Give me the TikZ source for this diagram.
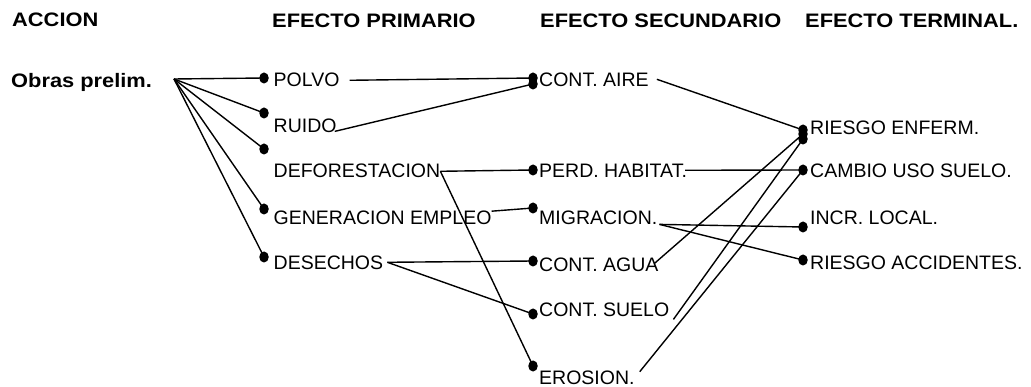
\documentclass[tikz,border=0pt]{standalone}
\usepackage{fontspec}
\setmainfont{Liberation Sans}
\newfontfamily\hfont{Liberation Sans}[FakeStretch=1.12]
\usetikzlibrary{shapes.geometric}
\begin{document}
\begin{tikzpicture}[x=1pt,y=-1pt,
  dot/.style={ellipse,fill=black,inner sep=0pt,minimum width=9.5pt,minimum height=11pt},
  lbl/.style={anchor=base west,inner sep=0pt,font=\fontsize{19.5}{22}\selectfont},
  head/.style={anchor=base west,inner sep=0pt,font=\hfont\bfseries\fontsize{19.5}{22}\selectfont},
  conn/.style={line width=1.4pt}]
\useasboundingbox (0,0) rectangle (1031,387);
% headings
\node[head] (h1) at (12,27) {ACCION};
\node[head] (h2) at (272,28) {EFECTO PRIMARIO};
\node[head] (h3) at (540,28) {EFECTO SECUNDARIO};
\node[head] (h4) at (805,28) {EFECTO TERMINAL.};
\node[head] (obras) at (11,88) {Obras prelim.};
\coordinate (src) at (174,79);
% primary
\node[lbl] (polvo) at (273.5,87) {POLVO};
\node[lbl] (ruido) at (273.5,133) {RUIDO};
\node[lbl] (defor) at (273.5,178) {DEFORESTACION};
\node[lbl] (gen) at (273.5,225) {GENERACION EMPLEO};
\node[lbl] (des) at (273.5,270) {DESECHOS};
% secondary
\node[lbl] (aire) at (539,87) {CONT. AIRE};
\node[lbl] (perd) at (539,178) {PERD. HABITAT.};
\node[lbl] (mig) at (539,225) {MIGRACION.};
\node[lbl] (agua) at (539,272) {CONT. AGUA};
\node[lbl] (suelo) at (539,317) {CONT. SUELO};
\node[lbl] (eros) at (539,384.5) {EROSION.};
% terminal
\node[lbl] (renf) at (810,135) {RIESGO ENFERM.};
\node[lbl] (camb) at (810,178) {CAMBIO USO SUELO.};
\node[lbl] (incr) at (810,225) {INCR. LOCAL.};
\node[lbl] (racc) at (810,270) {RIESGO ACCIDENTES.};
% dots
\node[dot] (dpolvo) at (264,78) {};
\node[dot] (druido) at (264,113) {};
\node[dot] (dx) at (264,149) {};
\node[dot] (dgen) at (264,209) {};
\node[dot] (ddes) at (264,257) {};
\node[dot] (dairea) at (533,78) {};
\node[dot] (daireb) at (533,84) {};
\node[dot] (dperd) at (533,170) {};
\node[dot] (dmig) at (533,208) {};
\node[dot] (dagua) at (533,261) {};
\node[dot] (dsuelo) at (533,314) {};
\node[dot] (deros) at (533,366) {};
\node[dot] (dre1) at (803,130) {};
\node[dot] (dre2) at (803,134) {};
\node[dot] (dre3) at (803,139) {};
\node[dot] (dcamb) at (803,170) {};
\node[dot] (dincr) at (803,227) {};
\node[dot] (dacc) at (803,260) {};
% connectors from action
\foreach \d in {dpolvo,druido,dx,dgen,ddes}
  \draw[conn] (src) -- (\d.center);
% primary -> secondary
\draw[conn] ([xshift=10pt]polvo.east) -- (dairea.center);
\draw[conn] ([xshift=-2pt,yshift=2pt]ruido.south east) -- (daireb.center);
\draw[conn] (defor.east) -- (dperd.center);
\draw[conn] (defor.east) -- (deros.center);
\draw[conn] (gen.north east) -- (dmig.center);
\draw[conn] ([xshift=4pt,yshift=1pt]des.east) -- (dagua.center);
\draw[conn] ([xshift=4pt,yshift=1pt]des.east) -- (dsuelo.center);
% secondary -> terminal
\draw[conn] ([xshift=8pt,yshift=1pt]aire.east) -- (dre1.center);
\draw[conn] ([xshift=-2pt,yshift=1pt]perd.east) -- (dcamb.center);
\draw[conn] ([xshift=2pt,yshift=1pt]mig.south east) -- (dincr.center);
\draw[conn] ([xshift=2pt,yshift=1pt]mig.south east) -- (dacc.center);
\draw[conn] ([xshift=-4pt,yshift=2pt]agua.east) -- (dre2.center);
\draw[conn] ([xshift=4pt,yshift=-2pt]suelo.south east) -- (dre3.center);
\draw[conn] ([xshift=5pt,yshift=-1pt]eros.north east) -- (dcamb.center);
\end{tikzpicture}
\end{document}
